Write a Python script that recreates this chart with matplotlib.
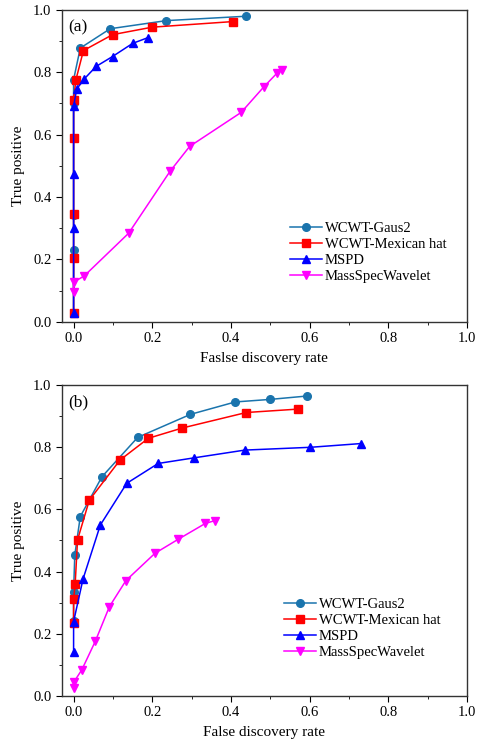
import matplotlib.pyplot as plt
from matplotlib.ticker import MultipleLocator

plt.rcParams["font.family"] = ["Liberation Serif", "DejaVu Serif"]

# Colours / markers per method
NAMES = ["WCWT-Gaus2", "WCWT-Mexican hat", "MSPD", "MassSpecWavelet"]
COLORS = ["#1a74ad", "#ff0000", "#0000ff", "#ff00ff"]
MARKERS = ["o", "s", "^", "v"]

# Panel (a) data: false discovery rate (x), true positive (y)
a_gaus_x = [0.0, 0.0, 0.0, 0.0, 0.0, 0.0, 0.017, 0.093, 0.236, 0.438]
a_gaus_y = [0.027, 0.23, 0.341, 0.59, 0.70, 0.776, 0.877, 0.939, 0.965, 0.979]
a_mex_x = [0.0, 0.0, 0.0, 0.0, 0.0, 0.006, 0.025, 0.099, 0.20, 0.406]
a_mex_y = [0.028, 0.203, 0.345, 0.589, 0.712, 0.776, 0.869, 0.92, 0.944, 0.962]
a_mspd_x = [0.0, 0.0, 0.0, 0.0, 0.008, 0.027, 0.057, 0.099, 0.15, 0.188]
a_mspd_y = [0.028, 0.302, 0.473, 0.69, 0.746, 0.778, 0.818, 0.85, 0.892, 0.91]
a_msw_x = [0.0, 0.0, 0.027, 0.14, 0.245, 0.295, 0.426, 0.483, 0.518, 0.530]
a_msw_y = [0.094, 0.127, 0.147, 0.284, 0.482, 0.562, 0.671, 0.752, 0.798, 0.808]

# Panel (b) data
b_gaus_x = [0.0, 0.0, 0.003, 0.017, 0.072, 0.163, 0.297, 0.411, 0.498, 0.593]
b_gaus_y = [0.24, 0.335, 0.453, 0.577, 0.705, 0.832, 0.906, 0.946, 0.954, 0.965]
b_mex_x = [0.0, 0.0, 0.004, 0.01, 0.04, 0.118, 0.19, 0.276, 0.439, 0.571]
b_mex_y = [0.234, 0.311, 0.36, 0.502, 0.63, 0.759, 0.829, 0.862, 0.912, 0.923]
b_mspd_x = [0.0, 0.0, 0.024, 0.068, 0.135, 0.215, 0.306, 0.435, 0.602, 0.73]
b_mspd_y = [0.142, 0.239, 0.376, 0.55, 0.684, 0.748, 0.766, 0.791, 0.80, 0.812]
b_msw_x = [0.0, 0.0, 0.021, 0.055, 0.091, 0.133, 0.207, 0.266, 0.335, 0.359]
b_msw_y = [0.025, 0.043, 0.084, 0.175, 0.287, 0.371, 0.459, 0.504, 0.555, 0.564]

panels = [
    ("(a)", "Faslse discovery rate",
     [(a_gaus_x, a_gaus_y), (a_mex_x, a_mex_y), (a_mspd_x, a_mspd_y), (a_msw_x, a_msw_y)],
     [0.129, 0.568, 0.846, 0.419], (0.545, 0.10)),
    ("(b)", "False discovery rate",
     [(b_gaus_x, b_gaus_y), (b_mex_x, b_mex_y), (b_mspd_x, b_mspd_y), (b_msw_x, b_msw_y)],
     [0.129, 0.066, 0.846, 0.417], (0.53, 0.095)),
]

fig = plt.figure(figsize=(4.79, 7.45), dpi=100)

for label, xlabel, series, rect, leg_pos in panels:
    ax = fig.add_axes(rect)
    for (x, y), name, c, m in zip(series, NAMES, COLORS, MARKERS):
        ax.plot(x, y, color=c, marker=m, markersize=5.5, linewidth=1.1, label=name)

    ax.set_xlim(-0.03, 1.0)
    ax.set_ylim(0, 1.0)
    ax.xaxis.set_major_locator(MultipleLocator(0.2))
    ax.xaxis.set_minor_locator(MultipleLocator(0.1))
    ax.yaxis.set_major_locator(MultipleLocator(0.2))
    ax.yaxis.set_minor_locator(MultipleLocator(0.1))
    ax.tick_params(which="both", direction="out", labelsize=10.5)
    ax.tick_params(which="major", length=4)
    ax.tick_params(which="minor", length=2.5)
    for s in ax.spines.values():
        s.set_linewidth(1.0)
        s.set_color("#333333")

    ax.set_xlabel(xlabel, size=11, labelpad=5)
    ax.set_ylabel("True positive", size=11, labelpad=6)
    ax.text(0.015, 0.97, label, transform=ax.transAxes, ha="left", va="top", size=12.5)

    ax.legend(loc="lower left", bbox_to_anchor=leg_pos, frameon=False, fontsize=10.5,
              handlelength=2.2, handletextpad=0.2, labelspacing=0.2, borderpad=0)

fig.savefig("out.png", dpi=100)
